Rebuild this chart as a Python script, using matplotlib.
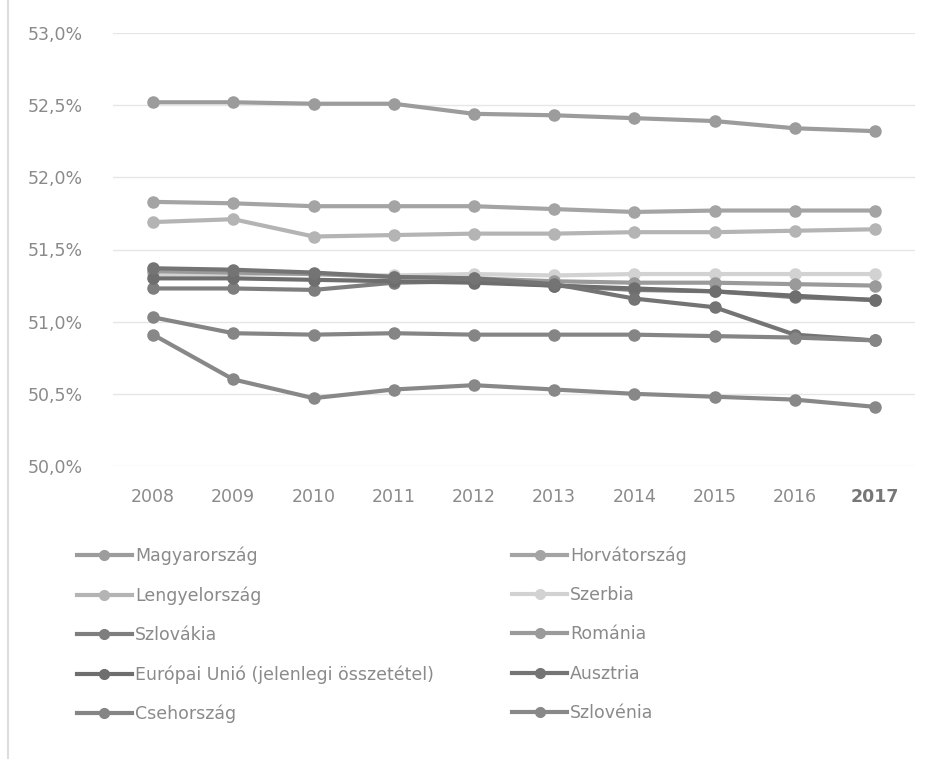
import matplotlib
matplotlib.use("Agg")
import matplotlib.pyplot as plt
from matplotlib.lines import Line2D
from matplotlib.ticker import FuncFormatter, MultipleLocator

plt.rcParams['font.family'] = ['DejaVu Sans']

years = ["2008", "2009", "2010", "2011", "2012", "2013", "2014", "2015", "2016", "2017"]

magyarorszag = [52.52, 52.52, 52.51, 52.51, 52.44, 52.43, 52.41, 52.39, 52.34, 52.32]
horvatorszag = [51.83, 51.82, 51.80, 51.80, 51.80, 51.78, 51.76, 51.77, 51.77, 51.77]
lengyelorszag = [51.69, 51.71, 51.59, 51.60, 51.61, 51.61, 51.62, 51.62, 51.63, 51.64]
szerbia = [51.33, 51.33, 51.33, 51.32, 51.33, 51.32, 51.33, 51.33, 51.33, 51.33]
szlovakia = [51.23, 51.23, 51.22, 51.27, 51.28, 51.25, 51.22, 51.21, 51.17, 51.15]
romania = [51.35, 51.34, 51.33, 51.31, 51.30, 51.28, 51.27, 51.27, 51.26, 51.25]
eu = [51.30, 51.30, 51.29, 51.28, 51.27, 51.25, 51.23, 51.21, 51.18, 51.15]
ausztria = [51.37, 51.36, 51.34, 51.31, 51.30, 51.26, 51.16, 51.10, 50.91, 50.87]
csehorszag = [51.03, 50.92, 50.91, 50.92, 50.91, 50.91, 50.91, 50.90, 50.89, 50.87]
szlovenia = [50.91, 50.60, 50.47, 50.53, 50.56, 50.53, 50.50, 50.48, 50.46, 50.41]

series = [
    ("Magyarország", magyarorszag, "#9c9c9c"),
    ("Horvátország", horvatorszag, "#a4a4a4"),
    ("Lengyelország", lengyelorszag, "#b4b4b4"),
    ("Szerbia", szerbia, "#d2d2d2"),
    ("Szlovákia", szlovakia, "#7e7e7e"),
    ("Románia", romania, "#9a9a9a"),
    ("Európai Unió (jelenlegi összetétel)", eu, "#6e6e6e"),
    ("Ausztria", ausztria, "#747474"),
    ("Csehország", csehorszag, "#858585"),
    ("Szlovénia", szlovenia, "#888888"),
]

fig = plt.figure(figsize=(9.38, 7.59), dpi=100)
ax = fig.add_axes([113/938, 1-466/759, (915-113)/938, (466-33)/759])

x = list(range(len(years)))
handles = {}
for name, vals, col in series:
    h, = ax.plot(x, vals, color=col, lw=3.0, marker='o', markersize=8,
                 markerfacecolor=col, markeredgecolor=col, solid_capstyle='round')
    handles[name] = h

ax.set_xlim(-0.5, len(years) - 0.5)
ax.set_ylim(50.0, 53.0)
ax.yaxis.set_major_locator(MultipleLocator(0.5))
ax.yaxis.set_major_formatter(FuncFormatter(lambda v, p: f"{v:.1f}%".replace('.', ',')))
ax.set_xticks(x)
ax.set_xticklabels(years)
ax.grid(axis='y', color='#e6e6e6', lw=1.0)
ax.set_axisbelow(True)
for s in ax.spines.values():
    s.set_visible(False)
ax.tick_params(axis='both', length=0, colors='#8a8a8a', labelsize=12.5)
ax.tick_params(axis='x', pad=16)
ax.tick_params(axis='y', pad=22)
lbl = ax.get_xticklabels()[-1]
lbl.set_fontweight('bold')
lbl.set_color('#777777')

left_names = ["Magyarország", "Lengyelország", "Szlovákia",
              "Európai Unió (jelenlegi összetétel)", "Csehország"]
right_names = ["Horvátország", "Szerbia", "Románia", "Ausztria", "Szlovénia"]
order = left_names + right_names
hs = [Line2D([], [], color=handles[n].get_color(), lw=3.0, marker='o', markersize=7)
      for n in order]
leg = fig.legend(hs, order, loc='upper left', bbox_to_anchor=(61/938, 1-531/759),
                 ncol=2, frameon=False, fontsize=12.5, handlelength=3.2,
                 handletextpad=0.15, labelspacing=1.22, columnspacing=4.5)
for t in leg.get_texts():
    t.set_color('#8a8a8a')

fig.add_artist(Line2D([8/938, 8/938], [0, 1], color='#dddddd', lw=1.5))

fig.savefig("out.png", dpi=100, facecolor='white')
